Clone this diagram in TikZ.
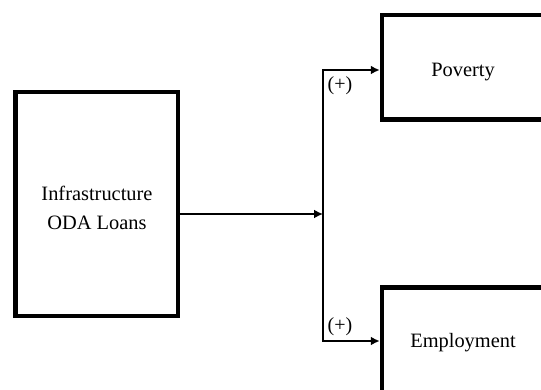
\documentclass[tikz,border=0pt]{standalone}
\usepackage{fontspec}
\setmainfont{Liberation Serif}
\usetikzlibrary{arrows.meta}
\begin{document}
\begin{tikzpicture}[x=1pt,y=-1pt,
  box/.style={draw=black,line width=4.5pt,rectangle,inner sep=0pt},
  txt/.style={inner sep=0pt,align=center,font=\fontsize{20.4}{29}\selectfont},
  conn/.style={line width=2pt,-{Latex[length=9pt,width=9pt]}},
  lbl/.style={inner sep=0pt,font=\fontsize{20}{24}\selectfont}]
\useasboundingbox (0,0) rectangle (541,390);
\clip (0,0) rectangle (541,390);
\node[box,minimum width=162.5pt,minimum height=224pt] (src) at (96.75,204) {};
\node[box,minimum width=162pt,minimum height=104.5pt] (pov) at (463,67.25) {};
\node[box,minimum width=162pt,minimum height=109pt] (emp) at (463,342) {};
\node[txt] (srct) at (97,208) {Infrastructure\\ODA Loans};
\node[txt] (povt) at (463,72) {Poverty};
\node[txt] (empt) at (463,343) {Employment};
\coordinate (split) at (323,214);
\coordinate (top) at (323,70);
\coordinate (bot) at (323,341);
\draw[conn] (src.east |- split) -- (split);
\draw[line width=2pt] (top) -- (bot);
\draw[conn] ([xshift=-1pt]top) -- (pov.west |- top);
\draw[conn] ([xshift=-1pt]bot) -- (emp.west |- bot);
\node[lbl] (l1) at (340,86) {(+)};
\node[lbl] (l2) at (340,327) {(+)};
\end{tikzpicture}
\end{document}
